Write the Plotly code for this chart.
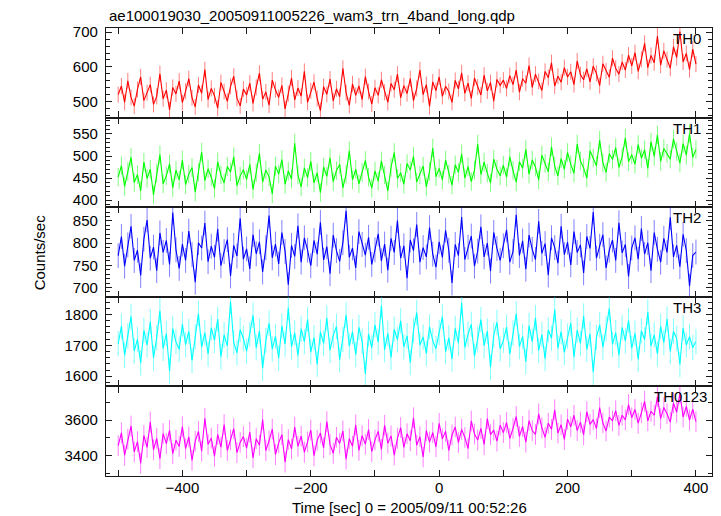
import numpy as np
import plotly.graph_objects as go
from plotly.subplots import make_subplots

# Time bins (sec), 0 = 2005/09/11 00:52:26
time_sec = list(range(-500, 401, 5))

th0 = [
    520, 545, 498, 560, 512, 487, 535, 571, 503, 526, 549, 492, 515, 580, 508, 533, 476, 541, 522, 559,
    497, 530, 566, 511, 485, 548, 524, 592, 506, 538, 517, 481, 555, 529, 501, 544, 573, 510, 488, 536,
    519, 553, 495, 541, 582, 507, 528, 490, 562, 534, 512, 547, 479, 523, 568, 505, 539, 516, 587, 498,
    531, 556, 509, 474, 543, 521, 565, 502, 537, 514, 596, 526, 489, 551, 518, 545, 506, 572, 529, 493,
    540, 518, 563, 527, 498, 552, 534, 579, 511, 546, 523, 566, 503, 538, 591, 520, 549, 486, 557, 532,
    571, 515, 544, 529, 498, 561, 537, 583, 524, 553, 509, 568, 542, 519, 576, 531, 555, 501, 564, 547,
    562, 538, 575, 549, 591, 527, 566, 553, 604, 541, 579, 558, 532, 587, 569, 612, 545, 573, 556, 598,
    571, 586, 549, 617, 578, 563, 594, 557, 602, 581, 546, 609, 588, 570, 625, 596, 579, 614, 591, 634,
    603, 641, 587, 622, 668, 598, 633, 612, 689, 605, 646, 621, 596, 658, 627, 702, 614, 639, 592, 651, 608,
]

th1 = [
    452, 478, 431, 465, 497, 440, 458, 421, 486, 449, 470, 412, 461, 503, 437, 455, 482, 428, 468, 446,
    491, 435, 459, 474, 418, 463, 509, 444, 471, 452, 426, 487, 457, 439, 476, 464, 498, 433, 455, 469,
    447, 481, 425, 462, 506, 441, 468, 453, 414, 477, 459, 492, 436, 466, 448, 529, 457, 430, 473, 451,
    488, 439, 462, 417, 475, 454, 496, 442, 467, 481, 428, 459, 512, 446, 470, 437, 463, 490, 452, 427,
    466, 443, 489, 457, 421, 474, 508, 449, 462, 436, 483, 468, 499, 441, 457, 477, 430, 465, 518, 453,
    472, 446, 491, 459, 434, 480, 463, 505, 450, 476, 442, 468, 527, 458, 486, 461, 439, 493, 470, 455,
    479, 452, 498, 467, 441, 487, 472, 515, 459, 491, 475, 446, 502, 483, 464, 521, 477, 455, 494, 470,
    508, 481, 461, 527, 489, 473, 450, 512, 496, 478, 536, 485, 463, 505, 492, 519, 474, 498, 541, 487,
    503, 481, 526, 495, 514, 472, 532, 499, 548, 488, 517, 506, 493, 539, 510, 484, 528, 502, 551, 497, 515,
]

th2 = [
    772, 815, 748, 796, 838, 761, 784, 727, 809, 852, 766, 791, 738, 823, 779, 806, 752, 869, 785, 743,
    798, 761, 827, 774, 712, 801, 789, 845, 758, 793, 768, 832, 749, 781, 808, 726, 795, 771, 856, 764,
    787, 742, 819, 776, 803, 735, 790, 862, 767, 798, 753, 824, 781, 706, 795, 770, 839, 757, 812, 784,
    749, 806, 775, 847, 762, 792, 731, 818, 783, 759, 801, 873, 768, 789, 744, 826, 797, 773, 813, 752,
    785, 821, 760, 798, 739, 811, 779, 851, 766, 794, 721, 807, 783, 842, 757, 790, 769, 835, 775, 746,
    803, 768, 829, 784, 710, 797, 772, 859, 763, 791, 816, 748, 782, 837, 769, 800, 737, 824, 788, 761,
    794, 830, 757, 781, 864, 772, 805, 741, 818, 786, 763, 849, 777, 799, 728, 812, 790, 755, 838, 774,
    802, 751, 826, 779, 796, 733, 815, 788, 870, 766, 793, 819, 744, 784, 807, 761, 846, 778, 797, 725,
    789, 812, 764, 833, 775, 801, 738, 824, 786, 757, 811, 779, 858, 769, 795, 747, 820, 783, 703, 772, 780,
]

th3 = [
    1705, 1762, 1668, 1731, 1794, 1682, 1719, 1643, 1748, 1701, 1776, 1659, 1725, 1812, 1690, 1738, 1617, 1754, 1711, 1687,
    1769, 1702, 1745, 1651, 1728, 1803, 1694, 1741, 1672, 1757, 1716, 1785, 1663, 1734, 1698, 1842, 1709, 1676, 1751, 1722,
    1681, 1736, 1797, 1692, 1747, 1626, 1715, 1771, 1688, 1729, 1658, 1763, 1704, 1821, 1695, 1740, 1667, 1753, 1712, 1784,
    1678, 1725, 1639, 1743, 1706, 1788, 1684, 1732, 1761, 1653, 1719, 1798, 1697, 1744, 1670, 1758, 1713, 1607, 1737, 1692,
    1766, 1710, 1829, 1686, 1739, 1661, 1752, 1718, 1779, 1695, 1731, 1644, 1748, 1806, 1701, 1727, 1674, 1760, 1715, 1689,
    1742, 1793, 1679, 1724, 1656, 1755, 1707, 1838, 1693, 1736, 1768, 1665, 1721, 1783, 1699, 1746, 1629, 1733, 1774, 1688,
    1716, 1759, 1671, 1740, 1802, 1696, 1729, 1647, 1764, 1712, 1789, 1683, 1735, 1657, 1750, 1723, 1816, 1691, 1744, 1677,
    1730, 1772, 1662, 1749, 1706, 1795, 1687, 1737, 1613, 1726, 1766, 1694, 1753, 1820, 1703, 1741, 1668, 1758, 1714, 1781,
    1690, 1739, 1655, 1747, 1718, 1808, 1698, 1734, 1672, 1761, 1709, 1785, 1680, 1745, 1722, 1638, 1756, 1701, 1728, 1693, 1712,
]

th0123 = [
    3455, 3528, 3401, 3492, 3567, 3420, 3478, 3356, 3513, 3446, 3589, 3432, 3497, 3381, 3524, 3467, 3542, 3410, 3486, 3451,
    3563, 3438, 3505, 3372, 3481, 3536, 3424, 3611, 3463, 3498, 3395, 3519, 3447, 3575, 3428, 3489, 3552, 3416, 3474, 3507,
    3441, 3532, 3386, 3495, 3458, 3604, 3427, 3483, 3549, 3405, 3471, 3518, 3362, 3490, 3437, 3561, 3452, 3509, 3418, 3477,
    3544, 3398, 3486, 3527, 3443, 3592, 3461, 3412, 3503, 3468, 3539, 3379, 3495, 3452, 3573, 3429, 3512, 3464, 3547, 3421,
    3488, 3536, 3434, 3571, 3469, 3511, 3402, 3497, 3558, 3446, 3523, 3483, 3614, 3458, 3506, 3391, 3541, 3476, 3529, 3449,
    3582, 3494, 3537, 3428, 3516, 3561, 3473, 3548, 3502, 3439, 3596, 3521, 3487, 3553, 3462, 3609, 3518, 3544, 3481, 3572,
    3529, 3587, 3496, 3553, 3621, 3508, 3564, 3475, 3598, 3541, 3519, 3636, 3557, 3502, 3583, 3548, 3659, 3527, 3574, 3491,
    3606, 3562, 3628, 3541, 3589, 3517, 3648, 3576, 3603, 3552, 3671, 3584, 3539, 3617, 3596, 3654, 3571, 3628, 3602, 3689,
    3614, 3661, 3583, 3642, 3707, 3596, 3651, 3628, 3734, 3609, 3672, 3637, 3589, 3698, 3645, 3752, 3618, 3679, 3601, 3663, 3592,
]

band_names = ["TH0", "TH1", "TH2", "TH3", "TH0123"]
band_errors = [23, 21, 28, 41, 59]
band_colors = ["#ff0000", "#00ff00", "#0000ff", "#00ffff", "#ff00ff"]
band_err_colors = ["rgba(255,0,0,0.5)", "rgba(0,255,0,0.5)", "rgba(0,0,255,0.5)",
                   "rgba(0,255,255,0.5)", "rgba(255,0,255,0.5)"]
y_ranges = [[454, 712], [384, 587], [679, 881], [1567, 1857], [3283, 3792]]
y_dticks = [100, 50, 50, 100, 200]
y_minor = [20, 10, 10, 20, 100]
label_xshift = [-9.5, -9.5, -9.5, -9.5, -3.5]
series = [th0, th1, th2, th3, th0123]

title_text = "ae100019030_20050911005226_wam3_trn_4band_long.qdp"
x_title = "Time [sec] 0 = 2005/09/11 00:52:26"
y_title = "Counts/sec"

FONT = "Liberation Sans, Arial, Helvetica, sans-serif"
AX = "#1a1a1a"

fig = make_subplots(rows=5, cols=1, shared_xaxes=True, vertical_spacing=0)

for i, vals in enumerate(series):
    fig.add_trace(go.Scatter(
        x=time_sec, y=vals, mode="lines",
        line=dict(color=band_colors[i], width=1.1),
        error_y=dict(type="constant", value=band_errors[i], color=band_err_colors[i],
                     thickness=1, width=0),
        showlegend=False, hoverinfo="skip",
    ), row=i + 1, col=1)
    fig.update_yaxes(
        range=y_ranges[i], dtick=y_dticks[i], tick0=0,
        ticks="inside", ticklen=6, tickwidth=1, tickcolor=AX,
        minor=dict(ticks="inside", dtick=y_minor[i], tick0=0, ticklen=3.5, tickwidth=1, tickcolor=AX),
        showline=True, linecolor=AX, linewidth=1.3, mirror="ticks",
        showgrid=False, zeroline=False, ticklabelstandoff=4,
        tickfont=dict(family=FONT, size=15, color="black"),
        row=i + 1, col=1,
    )
    fig.update_xaxes(
        range=[-519, 425], dtick=200, tick0=0,
        ticks="inside", ticklen=6, tickwidth=1, tickcolor=AX,
        minor=dict(ticks="inside", dtick=100, tick0=0, ticklen=6, tickwidth=1, tickcolor=AX),
        showline=True, linecolor=AX, linewidth=1.3, mirror="ticks",
        showgrid=False, zeroline=False,
        tickfont=dict(family=FONT, size=15, color="black"),
        row=i + 1, col=1,
    )
    axis_suffix = "" if i == 0 else str(i + 1)
    fig.add_annotation(
        text=band_names[i], xref="x" + axis_suffix + " domain", yref="y" + axis_suffix + " domain",
        x=1, y=1, xanchor="right", yanchor="middle", xshift=label_xshift[i], yshift=-10.5,
        showarrow=False, font=dict(family=FONT, size=15, color="black"),
    )

fig.update_xaxes(ticklabelstandoff=-2, row=5, col=1)

fig.add_annotation(text=title_text, xref="paper", yref="paper", x=0, y=1.027,
                   xanchor="left", yanchor="middle", xshift=1, showarrow=False,
                   font=dict(family=FONT, size=15, color="black"))
fig.add_annotation(text=x_title, xref="paper", yref="paper", x=0.5, y=-0.0707,
                   xanchor="center", yanchor="middle", showarrow=False,
                   font=dict(family=FONT, size=15, color="black"))
fig.add_annotation(text=y_title, xref="paper", yref="paper", x=-0.11, y=0.5,
                   xanchor="center", yanchor="middle", textangle=-90, showarrow=False,
                   font=dict(family=FONT, size=15, color="black"))

fig.update_layout(
    width=721, height=516,
    margin=dict(l=106, r=9, t=28, b=40),
    paper_bgcolor="white", plot_bgcolor="white",
    font=dict(family=FONT, size=15, color="black"),
)

fig.write_html(
    "out.html",
    config={"displayModeBar": False},
    post_script="document.body.style.margin='0';document.body.style.padding='0';"
                "document.body.style.overflow='hidden';",
)
